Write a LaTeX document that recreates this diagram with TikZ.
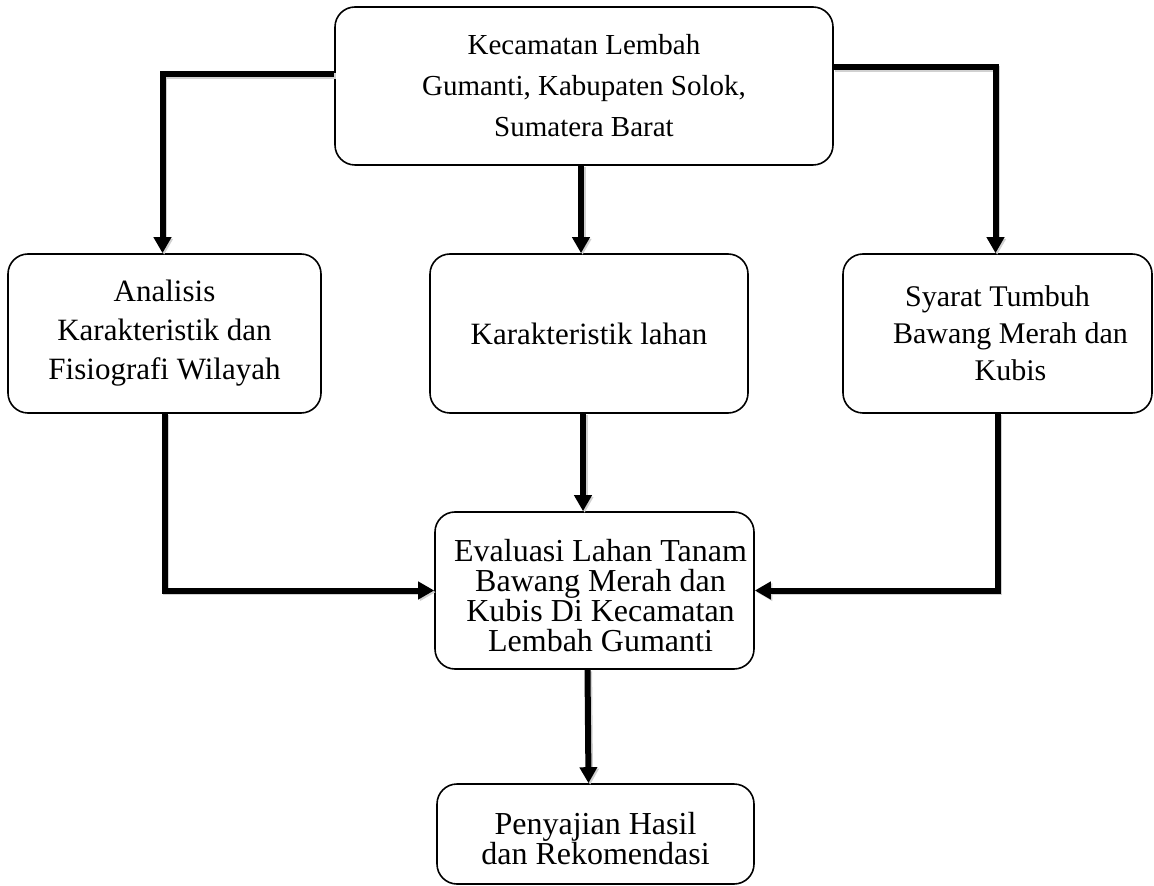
\documentclass[tikz,border=0pt]{standalone}
\usepackage{fontspec}
\setmainfont{Liberation Serif}
\usetikzlibrary{arrows.meta,calc}
\begin{document}
\begin{tikzpicture}[x=0.5pt,y=-0.5pt,
  box/.style={draw, line width=0.8pt, rounded corners=10pt, inner sep=0pt, align=center},
  conn/.style={line width=3pt, line join=miter, -{Triangle[length=8pt,width=8.5pt]},
    preaction={draw=black!18, line width=3pt, transform canvas={xshift=0.8pt,yshift=-0.8pt}}},
  ]
\useasboundingbox (0,0) rectangle (1154,886);
\node[box, minimum width=249pt, minimum height=79pt, font=\fontsize{14.5}{20.5}\selectfont] (top) at (584,86)
  {Kecamatan Lembah\\Gumanti, Kabupaten Solok,\\Sumatera Barat};
\node[box, minimum width=156.5pt, minimum height=79.5pt, font=\fontsize{15.5}{19.5}\selectfont] (left) at (164.5,333.5)
  {Analisis\\Karakteristik dan\\Fisiografi Wilayah};
\node[box, minimum width=159pt, minimum height=79.5pt, font=\fontsize{15.5}{19.5}\selectfont] (mid) at (589,333.5)
  {Karakteristik lahan};
\node[box, minimum width=154.5pt, minimum height=79.5pt, font=\fontsize{15}{18.5}\selectfont] (right) at (997.5,333.5)
  {Syarat Tumbuh\\\hspace*{13pt}Bawang Merah dan\\\hspace*{13pt}Kubis};
\node[box, minimum width=159.5pt, minimum height=78.5pt, font=\fontsize{16}{15}\selectfont] (eval) at (594.5,590.5)
  {\rule{0pt}{16pt}\hspace*{6pt}Evaluasi Lahan Tanam\\\hspace*{6pt}Bawang Merah dan\\\hspace*{6pt}Kubis Di Kecamatan\\\hspace*{6pt}Lembah Gumanti};
\node[box, minimum width=158.5pt, minimum height=50pt, font=\fontsize{16}{15}\selectfont] (bottom) at (595.5,834)
  {\rule{0pt}{16pt}Penyajian Hasil\\dan Rekomendasi};

\draw[conn] ([yshift=6pt]top.west) -| ([xshift=-1pt]left.north);
\draw[conn] ([yshift=9.5pt]top.east) -| ([xshift=-1pt]right.north);
\draw[conn] ([xshift=-1.5pt]top.south) -- ([xshift=-1.5pt]top.south |- mid.north);
\draw[conn] (left.south) |- (eval.west);
\draw[conn] (right.south) |- (eval.east);
\draw[conn] ([xshift=-3pt]mid.south) -- ([xshift=-3pt]mid.south |- eval.north);
\draw[conn] ([xshift=-3.5pt]eval.south) -- ([xshift=-3.5pt]bottom.north);
\end{tikzpicture}
\end{document}
